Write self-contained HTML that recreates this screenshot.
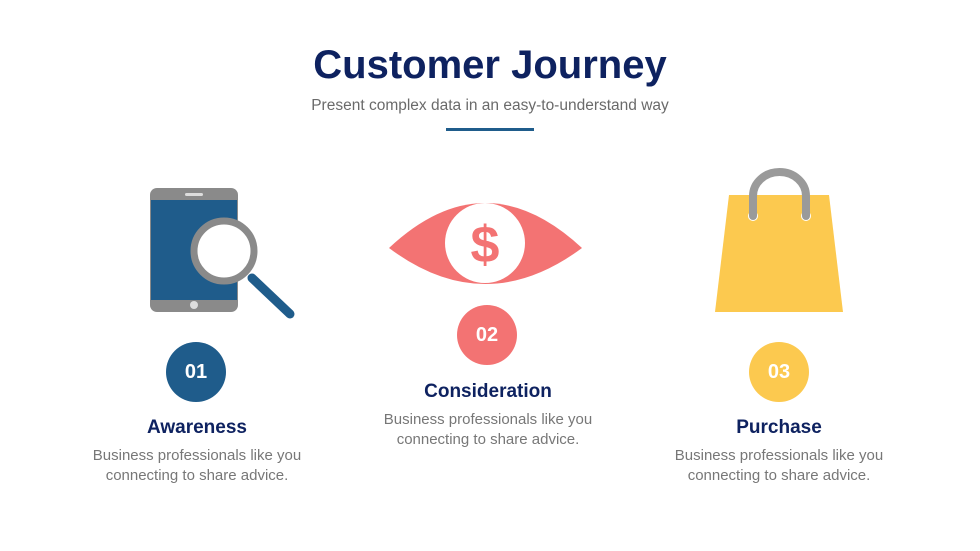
<!DOCTYPE html>
<html><head><style>
body{margin:0;width:980px;height:551px;background:#fff;font-family:"Liberation Sans",sans-serif;position:relative;overflow:hidden}
.t{position:absolute;left:0;width:980px;text-align:center}
.c{position:absolute;width:60px;height:60px;border-radius:50%;color:#fff;font-weight:bold;font-size:20px;line-height:60px;text-align:center}
.h{position:absolute;width:300px;text-align:center;font-weight:bold;font-size:19px;color:#0e2260}
.p{position:absolute;width:300px;text-align:center;font-size:15px;line-height:20px;color:#777}
</style></head><body>
<div class="t" style="top:43px;font-size:40px;font-weight:bold;color:#0e2260">Customer Journey</div>
<div class="t" style="top:97px;font-size:15.5px;color:#6a6a6a">Present complex data in an easy-to-understand way</div>
<div style="position:absolute;left:446px;top:128px;width:88px;height:3px;background:#1f5c8b"></div>
<svg width="980" height="551" style="position:absolute;left:0;top:0">
<rect x="150" y="188" width="88" height="124" rx="7" fill="#8a8a8a"/>
<rect x="151" y="200" width="86" height="100" fill="#1f5c8b"/>
<rect x="185" y="193" width="18" height="3" rx="1.5" fill="#ddd"/>
<circle cx="194" cy="305" r="4" fill="#ddd"/>
<line x1="252" y1="278" x2="290" y2="314" stroke="#1f5c8b" stroke-width="9" stroke-linecap="round"/>
<circle cx="224" cy="251" r="30" fill="#fff" stroke="#8a8a8a" stroke-width="7"/>
<path d="M389 248 Q485 158 582 248 Q485 320 389 248Z" fill="#f37373"/>
<circle cx="485" cy="243" r="40" fill="#fff"/>
<text x="485" y="262" text-anchor="middle" font-size="52" font-weight="bold" fill="#f37373" font-family="Liberation Sans">$</text>
<path d="M729 195 L829 195 L843 312 L715 312Z" fill="#fcc94f"/>
<circle cx="753" cy="216" r="5" fill="#fff"/><circle cx="806" cy="216" r="5" fill="#fff"/>
<path d="M753 216 V196 A26.5 24 0 0 1 806 196 V216" fill="none" stroke="#9a9a9a" stroke-width="8" stroke-linecap="round"/>
</svg>
<div class="c" style="left:166px;top:342px;background:#1f5c8b">01</div>
<div class="c" style="left:457px;top:305px;background:#f37373">02</div>
<div class="c" style="left:749px;top:342px;background:#fcc94f">03</div>
<div class="h" style="left:47px;top:417px">Awareness</div>
<div class="p" style="left:47px;top:446px">Business professionals like you<br>connecting to share advice.</div>
<div class="h" style="left:338px;top:381px">Consideration</div>
<div class="p" style="left:338px;top:410px">Business professionals like you<br>connecting to share advice.</div>
<div class="h" style="left:629px;top:417px">Purchase</div>
<div class="p" style="left:629px;top:446px">Business professionals like you<br>connecting to share advice.</div>
</body></html>
